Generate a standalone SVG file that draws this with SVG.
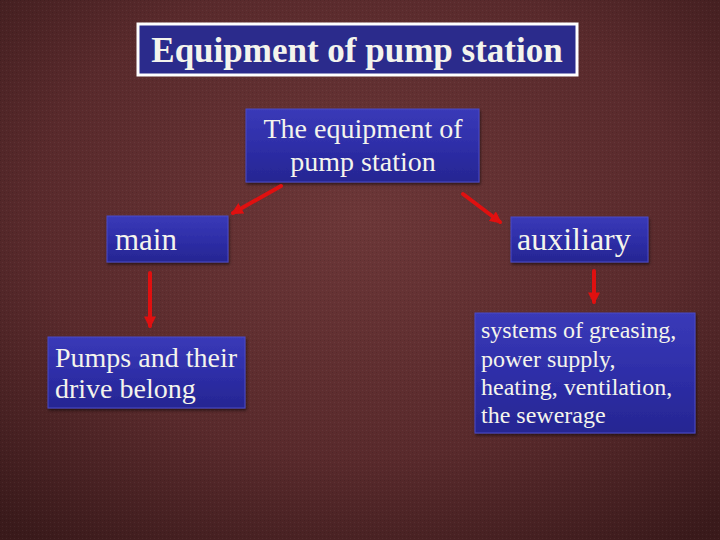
<svg xmlns="http://www.w3.org/2000/svg" width="720" height="540" viewBox="0 0 720 540">
<defs>
<radialGradient id="bg" cx="50%" cy="40%" r="75%">
<stop offset="0" stop-color="#6c3738"/>
<stop offset="0.6" stop-color="#592a2c"/>
<stop offset="1" stop-color="#3a1a1b"/>
</radialGradient>
<pattern id="tex" width="4" height="4" patternUnits="userSpaceOnUse">
<rect width="4" height="4" fill="none"/>
<rect x="0" y="0" width="1" height="1" fill="#000" fill-opacity="0.10"/>
<rect x="2" y="2" width="1" height="1" fill="#fff" fill-opacity="0.05"/>
</pattern>
<linearGradient id="box" x1="0" y1="0" x2="0" y2="1">
<stop offset="0" stop-color="#3a3ab8"/>
<stop offset="0.5" stop-color="#2e2ea8"/>
<stop offset="1" stop-color="#262692"/>
</linearGradient>
<filter id="sh" x="-10%" y="-10%" width="125%" height="130%">
<feDropShadow dx="1" dy="2" stdDeviation="1.5" flood-color="#000" flood-opacity="0.55"/>
</filter>
<marker id="ah" viewBox="0 0 10 10" refX="8" refY="5" markerWidth="3" markerHeight="3" orient="auto">
<path d="M0,0 L10,5 L0,10 z" fill="#e01010"/>
</marker>
<style>
.node{fill:url(#box);stroke:#4a4ac8;stroke-width:1;filter:url(#sh)}
.t{font-family:"Liberation Serif","Times New Roman",serif;fill:#f4f4ec}
.c{stroke:#e01010;stroke-width:4;fill:none;stroke-linecap:round;marker-end:url(#ah)}
</style>
</defs>
<rect width="720" height="540" fill="url(#bg)"/>
<rect width="720" height="540" fill="url(#tex)"/>

<g id="title">
<rect x="138" y="24" width="439" height="51" fill="#2b2b8c" stroke="#ffffff" stroke-width="3"/>
<text class="t" x="357" y="62" font-size="35" font-weight="bold" text-anchor="middle">Equipment of pump station</text>
</g>

<g id="root">
<rect class="node" x="246" y="109" width="233" height="73"/>
<text class="t" x="363" y="138" font-size="28" text-anchor="middle">The equipment of</text>
<text class="t" x="363" y="171" font-size="28" text-anchor="middle">pump station</text>
</g>

<g id="main">
<rect class="node" x="107" y="216" width="121" height="46"/>
<text class="t" x="115" y="250" font-size="31">main</text>
</g>

<g id="auxiliary">
<rect class="node" x="511" y="217" width="137" height="45"/>
<text class="t" x="517" y="250" font-size="32">auxiliary</text>
</g>

<g id="pumps">
<rect class="node" x="48" y="337" width="197" height="71"/>
<text class="t" x="55" y="367" font-size="28">Pumps and their</text>
<text class="t" x="55" y="398" font-size="28">drive belong</text>
</g>

<g id="systems">
<rect class="node" x="475" y="313" width="220" height="120"/>
<text class="t" x="481" y="338" font-size="24">systems of greasing,</text>
<text class="t" x="481" y="367" font-size="24">power supply,</text>
<text class="t" x="481" y="395" font-size="24">heating, ventilation,</text>
<text class="t" x="481" y="423" font-size="24">the sewerage</text>
</g>

<g id="connectors">
<line class="c" x1="281" y1="186" x2="233" y2="213"/>
<line class="c" x1="463" y1="194" x2="500" y2="222"/>
<line class="c" x1="150" y1="273" x2="150" y2="326"/>
<line class="c" x1="594" y1="271" x2="594" y2="302"/>
</g>
</svg>
